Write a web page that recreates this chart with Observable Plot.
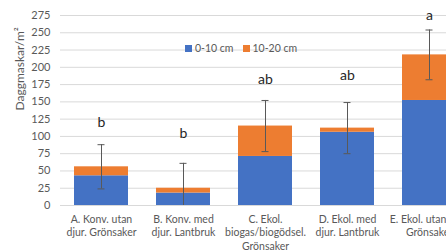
<!DOCTYPE html>
<html>
<head>
<meta charset="utf-8">
<script src="https://cdn.jsdelivr.net/npm/d3@7"></script>
<script src="https://cdn.jsdelivr.net/npm/@observablehq/plot@0.6"></script>
<style>
  html, body { margin: 0; padding: 0; overflow: hidden; background: #fff; width: 446px; height: 250px; }
  #wrap { position: relative; width: 470px; height: 250px; }
  #legend { position: absolute; left: 185px; top: 42px; font-family: Lato, "Open Sans", sans-serif; font-size: 10.5px; color: #595959; display: flex; align-items: center; }
  #legend span.sw { display: inline-block; width: 7px; height: 7px; margin-right: 3px; }
  #legend span.it { display: inline-flex; align-items: center; margin-right: 9px; }
</style>
</head>
<body>
<div id="wrap"></div>
<script>
const categories = ["A", "B", "C", "D", "E"];
const categoryLabels = [
  "A. Konv. utan\ndjur. Grönsaker",
  "B. Konv. med\ndjur. Lantbruk",
  "C. Ekol.\nbiogas/biogödsel.\nGrönsaker",
  "D. Ekol. med\ndjur. Lantbruk",
  "E. Ekol. utan djur.\nGrönsaker"
];
const layers = ["0-10 cm", "10-20 cm"];
const depth0to10 = [43, 18, 71, 106, 152];
const depth10to20 = [13, 7, 44, 6, 66];
const errors = [32, 36, 37, 37, 36];
const letters = ["b", "b", "ab", "ab", "a"];
const letterValues = [120, 104, 183, 188, 275];
const yTicks = [0, 25, 50, 75, 100, 125, 150, 175, 200, 225, 250, 275];
const colors = ["#4472C4", "#ED7D31"];
const font = "Lato, 'Open Sans', sans-serif";

const stacked = [];
categories.forEach((c, i) => {
  stacked.push({cat: c, layer: layers[0], value: depth0to10[i]});
  stacked.push({cat: c, layer: layers[1], value: depth10to20[i]});
});
const summary = categories.map((c, i) => {
  const total = depth0to10[i] + depth10to20[i];
  return {cat: c, lo: Math.max(0, total - errors[i]), hi: total + errors[i], rawLo: total - errors[i], letter: letters[i], ly: letterValues[i]};
});
const labelMap = new Map(categories.map((c, i) => [c, categoryLabels[i]]));

const chart = Plot.plot({
  width: 470,
  height: 250,
  marginLeft: 60,
  marginRight: 0,
  marginTop: 15,
  marginBottom: 45,
  style: {maxWidth: "none", overflow: "visible", fontFamily: font, background: "transparent"},
  x: {domain: categories, paddingInner: 0.34, paddingOuter: 0.17, label: null},
  y: {domain: [0, 275], label: null},
  color: {domain: layers, range: colors},
  marks: [
    Plot.gridY(yTicks, {stroke: "#D9D9D9", strokeOpacity: 1, strokeWidth: 1}),
    Plot.axisY(yTicks, {tickSize: 0, tickPadding: 10, fontSize: 11, fill: "#595959", label: null}),
    Plot.axisX({tickSize: 0, tickPadding: 8, fontSize: 10.5, fill: "#595959", lineAnchor: "top", lineHeight: 1.27, tickFormat: d => labelMap.get(d), label: null}),
    Plot.barY(stacked, {x: "cat", y: "value", fill: "layer"}),
    Plot.ruleX(summary, {x: "cat", y1: "lo", y2: "hi", stroke: "#595959", strokeWidth: 1}),
    Plot.tickY(summary, {x: "cat", y: "hi", stroke: "#595959", strokeWidth: 1, insetLeft: 23.5, insetRight: 23.5}),
    Plot.tickY(summary.filter(d => d.rawLo >= 0), {x: "cat", y: "lo", stroke: "#595959", strokeWidth: 1, insetLeft: 23.5, insetRight: 23.5}),
    Plot.text(summary, {x: "cat", y: "ly", text: "letter", fontSize: 14, fill: "#262626"}),
    Plot.text(["Daggmaskar/m²"], {frameAnchor: "left", dx: -40, rotate: -90, fontSize: 12, fill: "#595959"})
  ]
});
document.getElementById("wrap").appendChild(chart);

const legend = document.createElement("div");
legend.id = "legend";
layers.forEach((l, i) => {
  const it = document.createElement("span");
  it.className = "it";
  const sw = document.createElement("span");
  sw.className = "sw";
  sw.style.background = colors[i];
  it.appendChild(sw);
  it.appendChild(document.createTextNode(l));
  legend.appendChild(it);
});
document.getElementById("wrap").appendChild(legend);
</script>
</body>
</html>
